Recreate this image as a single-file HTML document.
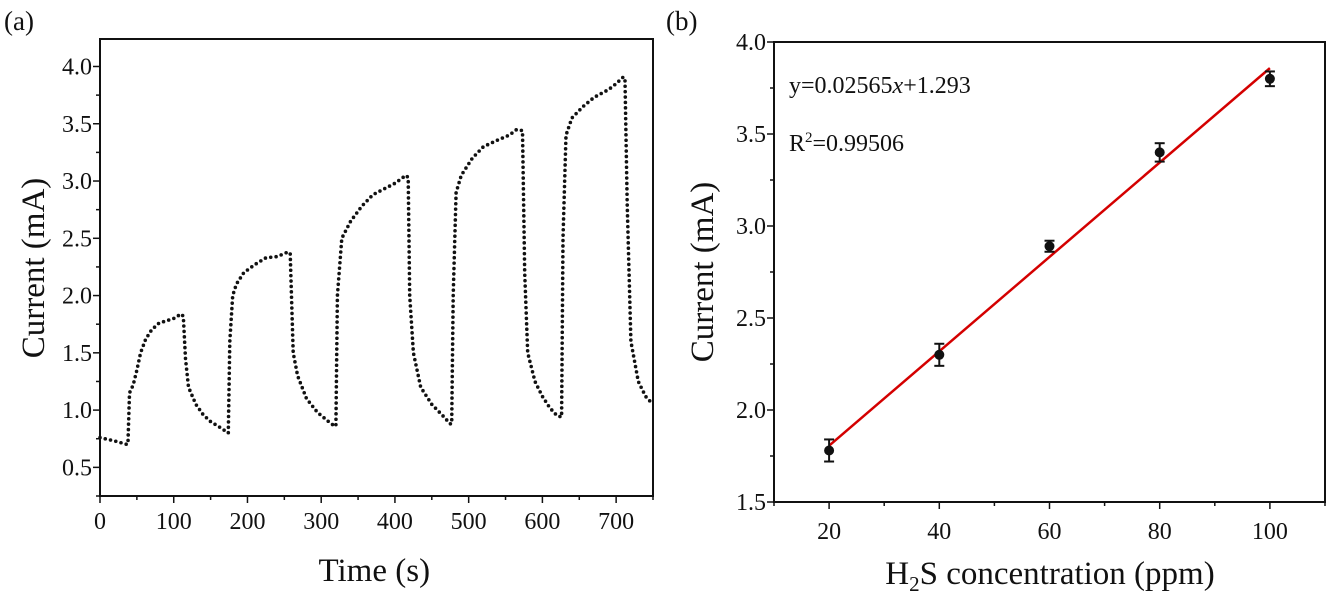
<!DOCTYPE html>
<html><head><meta charset="utf-8"><style>
body{margin:0;background:#fff;width:1328px;height:594px;overflow:hidden}
svg text{font-family:"Liberation Serif",serif;fill:#111}
</style></head><body>
<svg id="c" width="1328" height="594"></svg>
<script>
// Panel (a) data: time (s) and current (mA)
const timeA=[0,20,37,38,40,45,50,55,62,70,80,90,100,110,113,116,120,130,140,150,160,172,174,176,180,185,195,210,225,240,255,258,262,268,280,295,310,318,320,322,328,340,355,370,385,400,415,418,420,425,435,450,465,475,477,479,483,490,505,520,540,555,565,573,576,580,590,600,610,620,626,628,632,640,655,670,690,700,710,712,715,720,730,740,750];
const currentA=[0.76,0.73,0.70,0.72,1.15,1.22,1.35,1.5,1.62,1.70,1.76,1.78,1.80,1.84,1.82,1.45,1.2,1.05,0.96,0.90,0.86,0.81,0.80,1.6,2.0,2.1,2.2,2.27,2.33,2.34,2.38,2.37,1.5,1.3,1.1,0.98,0.9,0.86,0.86,2.0,2.5,2.65,2.78,2.88,2.93,2.98,3.05,3.03,2.0,1.5,1.2,1.05,0.95,0.88,0.88,2.0,2.9,3.05,3.2,3.3,3.36,3.40,3.45,3.44,2.2,1.5,1.25,1.12,1.02,0.95,0.94,2.5,3.4,3.55,3.65,3.73,3.80,3.85,3.91,3.88,2.8,1.6,1.25,1.12,1.05];
const xTicksA=[0,100,200,300,400,500,600,700];
const yTicksA=[0.5,1.0,1.5,2.0,2.5,3.0,3.5,4.0];
// Panel (b) data
const concB=[20,40,60,80,100];
const currentB=[1.78,2.30,2.89,3.40,3.80];
const errB=[0.06,0.06,0.03,0.05,0.04];
const fitSlope=0.02565, fitIntercept=1.293;
const xTicksB=[20,40,60,80,100];
const yTicksB=[1.5,2.0,2.5,3.0,3.5,4.0];

const NS='http://www.w3.org/2000/svg';
const svg=document.getElementById('c');
function el(tag,attrs,parent){const e=document.createElementNS(NS,tag);for(const k in attrs)e.setAttribute(k,attrs[k]);(parent||svg).appendChild(e);return e;}
function txt(s,x,y,size,anchor,name,parent){const t=el('text',{x:x,y:y,'font-size':size,'text-anchor':anchor||'middle'},parent);t.textContent=s;


return t;}

// ---------- Panel A ----------
const A={l:100,r:653,t:39,b:496,x0:0,x1:750,y0:0.25,y1:4.24};
const xA=v=>A.l+(v-A.x0)/(A.x1-A.x0)*(A.r-A.l);
const yA=v=>A.b-(v-A.y0)/(A.y1-A.y0)*(A.b-A.t);
const gA=el('g',{});


const frameA=el('rect',{x:A.l,y:A.t,width:A.r-A.l,height:A.b-A.t,fill:'none',stroke:'#111','stroke-width':2},gA);


for(let v=0;v<=750;v+=50){const big=v%100===0;el('line',{x1:xA(v),x2:xA(v),y1:A.b,y2:A.b+(big?7:4),stroke:'#111','stroke-width':1.5},gA);}
for(let v=0.25;v<=4.2;v+=0.25){const big=Math.abs(v*2-Math.round(v*2))<1e-6;el('line',{x1:A.l,x2:A.l-(big?7:4),y1:yA(v),y2:yA(v),stroke:'#111','stroke-width':1.5},gA);}
xTicksA.forEach(v=>txt(String(v),xA(v),529,24,'middle','x-tick-label-a',gA));
yTicksA.forEach(v=>txt(v.toFixed(1),A.l-8,yA(v)+8,24,'end','y-tick-label-a',gA));
txt('Time (s)',xA(372),581,33,'middle','x-axis-title-a',gA);
const yta=txt('Current (mA)',0,0,33,'middle','y-axis-title-a',gA);yta.setAttribute('transform','translate(44,268) rotate(-90)');
txt('(a)',4,30,27,'start','panel-label-a',gA);
const ptsA=timeA.map((t,i)=>xA(t).toFixed(1)+','+yA(currentA[i]).toFixed(1)).join(' ');
const lineA=el('polyline',{points:ptsA,fill:'none',stroke:'#111','stroke-width':3.6,'stroke-linecap':'round','stroke-dasharray':'0 5.4'},gA);



// ---------- Panel B ----------
const B={l:774,r:1325,t:42,b:502,x0:10,x1:110,y0:1.5,y1:4.0};
const xB=v=>B.l+(v-B.x0)/(B.x1-B.x0)*(B.r-B.l);
const yB=v=>B.b-(v-B.y0)/(B.y1-B.y0)*(B.b-B.t);
const gB=el('g',{});


const frameB=el('rect',{x:B.l,y:B.t,width:B.r-B.l,height:B.b-B.t,fill:'none',stroke:'#111','stroke-width':2},gB);


for(let v=10;v<=110;v+=10){const big=v%20===0;el('line',{x1:xB(v),x2:xB(v),y1:B.b,y2:B.b+(big?7:4),stroke:'#111','stroke-width':1.5},gB);}
for(let v=1.5;v<=4.01;v+=0.25){const big=Math.abs(v*2-Math.round(v*2))<1e-6;el('line',{x1:B.l,x2:B.l-(big?7:4),y1:yB(v),y2:yB(v),stroke:'#111','stroke-width':1.5},gB);}
xTicksB.forEach(v=>txt(String(v),xB(v),539,24,'middle','x-tick-label-b',gB));
yTicksB.forEach(v=>txt(v.toFixed(1),B.l-8,yB(v)+8,24,'end','y-tick-label-b',gB));
const xtb=el('text',{x:1050,y:584,'font-size':33,'text-anchor':'middle'},gB);
xtb.innerHTML='H<tspan font-size="21" dy="7">2</tspan><tspan dy="-7">S concentration (ppm)</tspan>';


const ytb=txt('Current (mA)',0,0,33,'middle','y-axis-title-b',gB);ytb.setAttribute('transform','translate(713,272) rotate(-90)');
txt('(b)',666,30,27,'start','panel-label-b',gB);
const eq=el('text',{x:789,y:93,'font-size':24},gB);
eq.innerHTML='y=0.02565<tspan font-style="italic">x</tspan>+1.293';


const r2=el('text',{x:789,y:151,'font-size':24},gB);
r2.innerHTML='R<tspan font-size="15" dy="-9">2</tspan><tspan dy="9">=0.99506</tspan>';


const fit=el('line',{x1:xB(concB[0]),y1:yB(fitSlope*concB[0]+fitIntercept),x2:xB(concB[concB.length-1]),y2:yB(fitSlope*concB[concB.length-1]+fitIntercept),stroke:'#d40000','stroke-width':2.5},gB);


concB.forEach((c,i)=>{
  const x=xB(c),y=yB(currentB[i]),e=errB[i];
  const g=el('g',{},gB);
  
  
  el('line',{x1:x,x2:x,y1:yB(currentB[i]+e),y2:yB(currentB[i]-e),stroke:'#111','stroke-width':2},g);
  el('line',{x1:x-5,x2:x+5,y1:yB(currentB[i]+e),y2:yB(currentB[i]+e),stroke:'#111','stroke-width':2},g);
  el('line',{x1:x-5,x2:x+5,y1:yB(currentB[i]-e),y2:yB(currentB[i]-e),stroke:'#111','stroke-width':2},g);
  el('circle',{cx:x,cy:y,r:5,fill:'#111'},g);
});
</script>
</body></html>
